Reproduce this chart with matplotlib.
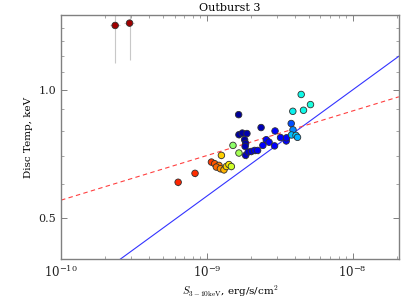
import numpy as np
import matplotlib
matplotlib.use('Agg')
import matplotlib.pyplot as plt
from matplotlib.ticker import FixedLocator, FixedFormatter, NullFormatter

plt.rcParams['font.family'] = 'DejaVu Serif'
plt.rcParams['mathtext.fontset'] = 'cm'

# 3-10 keV flux (1e-9 erg/s/cm^2) and disc temperature (keV)
flux = np.array([0.235, 0.295, 0.635, 0.829, 1.074, 1.131, 1.21, 1.161, 1.237, 1.309,
                 1.36, 1.416, 1.471, 1.257, 1.509, 1.658,
                 1.65, 1.658, 1.749, 1.881, 1.814, 1.843, 1.828, 1.843, 1.917, 2.016,
                 2.123, 2.226,
                 2.352, 2.419, 2.553, 2.668, 2.932, 2.909, 3.198, 3.498, 3.515, 3.784,
                 3.893, 3.802, 4.081, 4.179, 3.881, 4.43, 4.594, 5.129]) * 1e-9
temp = np.array([1.417, 1.435, 0.606, 0.636, 0.676, 0.670, 0.664, 0.658, 0.652, 0.648,
                 0.660, 0.667, 0.660, 0.701, 0.740, 0.710,
                 0.874, 0.784, 0.791, 0.789, 0.763, 0.748, 0.736, 0.701, 0.714, 0.716,
                 0.720, 0.720,
                 0.815, 0.740, 0.763, 0.753, 0.800, 0.738, 0.772, 0.758, 0.771, 0.833,
                 0.805, 0.783, 0.781, 0.773, 0.890, 0.975, 0.895, 0.923])
# position in the colour map (jet)
colour = [0.97, 0.97, 0.87, 0.86, 0.85, 0.82, 0.78, 0.8, 0.76, 0.72,
          0.68, 0.66, 0.6, 0.69, 0.52, 0.55,
          0.02, 0.03, 0.03, 0.04, 0.03, 0.04, 0.05, 0.06, 0.07, 0.08,
          0.09, 0.1,
          0.05, 0.11, 0.11, 0.11, 0.11, 0.11, 0.11, 0.12, 0.12, 0.2,
          0.26, 0.31, 0.33, 0.3, 0.36, 0.37, 0.37, 0.38]
flux_err = np.array([0.018e-9, 0.023e-9] + list(0.035 * flux[2:]))
temp_err = [0.26, 0.26] + [0.012] * 44

# model lines: T = A * (S / 1e-8)^p
blue_norm, blue_index = 1.0, 0.25
red_norm, red_index = 0.892, 0.105

xlim = (1e-10, 2.07e-8)
ylim = (0.4, 1.5)
xticks = [1e-10, 1e-9, 1e-8]
xticklabels = [r'$\mathdefault{10^{-10}}$', r'$\mathdefault{10^{-9}}$', r'$\mathdefault{10^{-8}}$']
yticks = [0.5, 1.0]
yticklabels = ['0.5', '1.0']

fig = plt.figure(figsize=(4.07, 3.05), dpi=100)
ax = fig.add_axes([0.150, 0.151, 0.830, 0.800])

ax.errorbar(flux, temp, xerr=flux_err, yerr=temp_err, fmt='none',
            ecolor='#c8c8c8', elinewidth=0.8, capsize=0, zorder=1)
ax.scatter(flux, temp, c=colour, cmap='jet', vmin=0, vmax=1, s=22,
           edgecolors='#303030', linewidths=0.6, zorder=3)

xx = np.logspace(np.log10(xlim[0]), np.log10(xlim[1]), 50)
ax.plot(xx, blue_norm * (xx / 1e-8) ** blue_index, color='#3333ff', lw=0.8, zorder=2)
ax.plot(xx, red_norm * (xx / 1e-8) ** red_index, color='#ff4040', lw=0.8,
        ls=(0, (4, 3)), zorder=2)

ax.set_xscale('log')
ax.set_yscale('log')
ax.set_xlim(*xlim)
ax.set_ylim(*ylim)

ax.yaxis.set_major_locator(FixedLocator(yticks))
ax.yaxis.set_major_formatter(FixedFormatter(yticklabels))
ax.yaxis.set_minor_locator(FixedLocator([0.6, 0.7, 0.8, 0.9, 1.1, 1.2, 1.3, 1.4]))
ax.yaxis.set_minor_formatter(NullFormatter())
ax.xaxis.set_major_locator(FixedLocator(xticks))
ax.xaxis.set_major_formatter(FixedFormatter(xticklabels))
minor_x = [m * 10.0 ** e for e in (-10, -9, -8) for m in range(2, 10) if m * 10.0 ** e < xlim[1]]
ax.xaxis.set_minor_locator(FixedLocator(minor_x))
ax.xaxis.set_minor_formatter(NullFormatter())

for s in ax.spines.values():
    s.set_color('#808080')
    s.set_linewidth(1.0)
ax.tick_params(which='both', direction='in', top=True, right=True,
               color='#808080', labelsize=8, labelcolor='#222222')
ax.tick_params(axis='x', labelsize=8.5)
ax.tick_params(which='major', length=4, width=0.7)
ax.tick_params(which='minor', length=2, width=0.5)

ax.set_title('Outburst 3', fontsize=8, pad=3)
ax.set_xlabel(r'$S_{\rm 3-10keV}$, erg/s/cm$^2$', fontsize=7.5, labelpad=3)
ax.set_ylabel('Disc Temp, keV', fontsize=7.5, labelpad=4)

fig.savefig('out.png', dpi=100)
